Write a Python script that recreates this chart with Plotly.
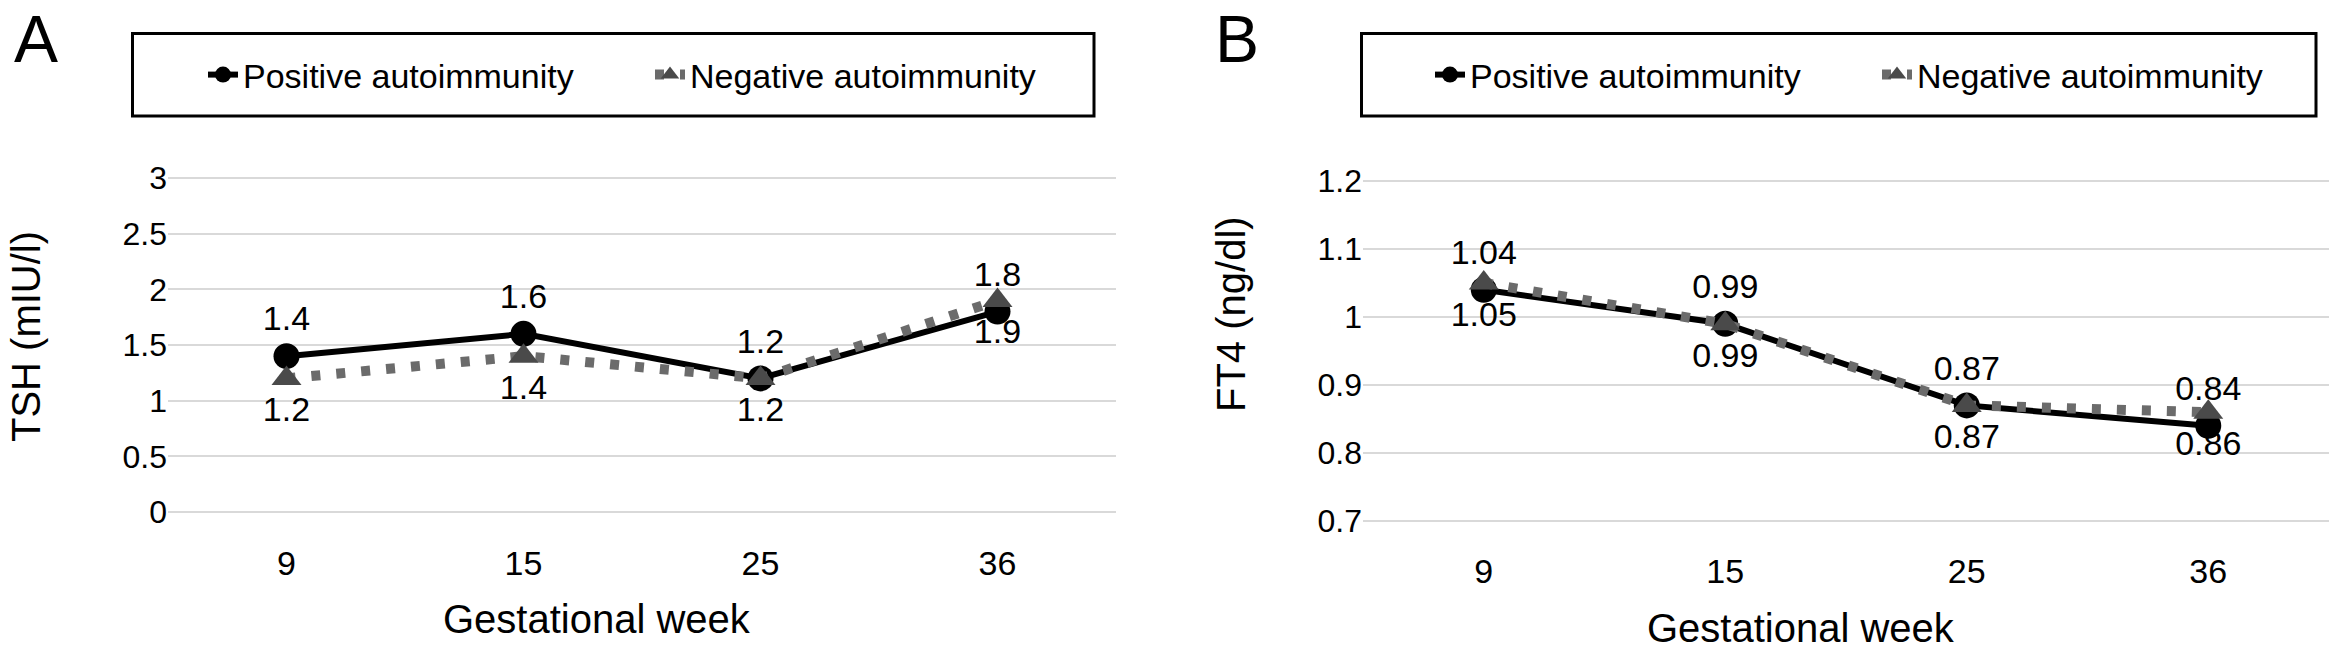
import plotly.graph_objects as go

# ---------------- data ----------------
weeks = ["9", "15", "25", "36"]
series_names = ["Positive autoimmunity", "Negative autoimmunity"]

tsh_positive = [1.4, 1.6, 1.2, 1.8]
tsh_negative = [1.2, 1.4, 1.2, 1.9]

ft4_positive = [1.04, 0.99, 0.87, 0.84]
ft4_negative = [1.05, 0.99, 0.87, 0.86]

tsh_ticks = [0, 0.5, 1, 1.5, 2, 2.5, 3]
tsh_ticktext = ["0", "0.5", "1", "1.5", "2", "2.5", "3"]
ft4_ticks = [0.7, 0.8, 0.9, 1.0, 1.1, 1.2]
ft4_ticktext = ["0.7", "0.8", "0.9", "1", "1.1", "1.2"]

panel_letters = ["A", "B"]
x_title = "Gestational week"
y_titles = ["TSH (mIU/l)", "FT4 (ng/dl)"]

# ---------------- style ----------------
W, H = 2329, 653
FONT = "Liberation Sans, Arial, Helvetica, sans-serif"
POS_COLOR = "#000000"
NEG_LINE = "#6b6b6b"
NEG_MARK = "#4a4a4a"
GRID = "#d9d9d9"

fig = go.Figure()


def add_panel(pos_vals, neg_vals, xa, ya, legend):
    fig.add_trace(go.Scatter(
        x=weeks, y=pos_vals, name=series_names[0], mode="lines+markers+text",
        line=dict(color=POS_COLOR, width=6),
        marker=dict(symbol="circle", size=26, color=POS_COLOR),
        text=[str(v) for v in pos_vals], textposition="top center",
        textfont=dict(size=34, color="black", family=FONT),
        xaxis=xa, yaxis=ya, legend=legend, cliponaxis=False,
    ))
    fig.add_trace(go.Scatter(
        x=weeks, y=neg_vals, name=series_names[1], mode="lines+markers+text",
        line=dict(color=NEG_LINE, width=10, dash="9px,16px"),
        marker=dict(symbol="triangle-up", size=26, color=NEG_MARK),
        text=[str(v) for v in neg_vals], textposition="bottom center",
        textfont=dict(size=34, color="black", family=FONT),
        xaxis=xa, yaxis=ya, legend=legend, cliponaxis=False,
    ))


add_panel(tsh_positive, tsh_negative, "x", "y", "legend")
add_panel(ft4_positive, ft4_negative, "x2", "y2", "legend2")

axis_common = dict(showline=False, zeroline=False, ticks="", automargin=False)

xcommon = dict(axis_common, type="category", range=[-0.5, 3.5], showgrid=False,
               tickfont=dict(size=34, family=FONT, color="black"))
ycommon = dict(axis_common, showgrid=True, gridcolor=GRID, gridwidth=2,
               tickfont=dict(size=32, family=FONT, color="black"))

# panel A geometry: x 168..1116 px, y value 0 at 512 px, 3 at 178 px
fig.update_layout(
    xaxis=dict(xcommon, domain=[168 / W, 1116 / W], anchor="y"),
    yaxis=dict(ycommon, domain=[(H - 540) / H, (H - 175) / H], anchor="x",
               range=[-0.2515, 3.027], tickvals=tsh_ticks, ticktext=tsh_ticktext),
    xaxis2=dict(xcommon, domain=[1363 / W, 1.0], anchor="y2"),
    yaxis2=dict(ycommon, domain=[(H - 548) / H, (H - 178) / H], anchor="x2",
                range=[0.6603, 1.2044], tickvals=ft4_ticks, ticktext=ft4_ticktext),
)

# axis titles (placed as in the reference)
title_font = dict(size=40, family=FONT, color="black")
for cx, cy in [(597, 619), (1801, 628)]:
    fig.add_annotation(text=x_title, xref="paper", yref="paper", x=cx / W, y=(H - cy) / H,
                       xanchor="center", yanchor="middle", showarrow=False, font=title_font)
for txt, cx, cy in [(y_titles[0], 26, 337), (y_titles[1], 1231, 314)]:
    fig.add_annotation(text=txt, xref="paper", yref="paper", x=cx / W, y=(H - cy) / H,
                       xanchor="center", yanchor="middle", showarrow=False,
                       textangle=-90, font=title_font)

legend_common = dict(orientation="h", bgcolor="rgba(0,0,0,0)", borderwidth=0,
                     font=dict(size=34, family=FONT, color="black"),
                     xanchor="left", yanchor="middle", y=(H - 75) / H,
                     entrywidthmode="pixels", itemsizing="trace")
fig.update_layout(
    legend=dict(legend_common, x=203 / W, entrywidth=402),
    legend2=dict(legend_common, x=1430 / W, entrywidth=402),
)

# legend frames
for x0, x1 in [(132.5, 1094), (1361.5, 2316)]:
    fig.add_shape(type="rect", xref="paper", yref="paper",
                  x0=x0 / W, x1=x1 / W, y0=(H - 116) / H, y1=(H - 33.5) / H,
                  line=dict(color="black", width=3), fillcolor="rgba(0,0,0,0)")

# panel letters
for letter, cx in zip(panel_letters, [36, 1237]):
    fig.add_annotation(text=letter, xref="paper", yref="paper", x=cx / W, y=1.0,
                       xanchor="center", yanchor="top", showarrow=False,
                       font=dict(size=66, family=FONT, color="black"))

fig.update_layout(
    width=W, height=H, margin=dict(l=0, r=0, t=0, b=0),
    paper_bgcolor="white", plot_bgcolor="white",
    font=dict(family=FONT, color="black"),
    showlegend=True,
)

fig.write_html("out.html", config={"displayModeBar": False},
               post_script="document.body.style.margin='0';")
